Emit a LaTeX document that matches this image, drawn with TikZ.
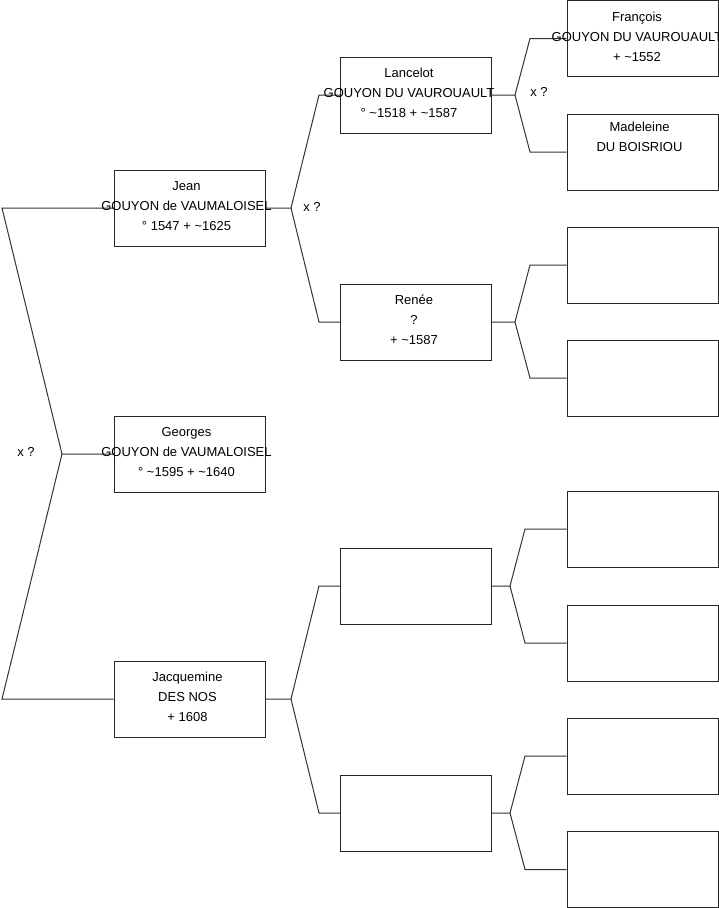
\documentclass[tikz,border=0pt]{standalone}
\usepackage{fontspec}
\setmainfont{Liberation Sans}
\usetikzlibrary{calc}
\begin{document}
\begin{tikzpicture}[x=1pt,y=-1pt,
  pbox/.style={draw=black!85,line width=1pt,minimum width=151pt,minimum height=76pt,inner sep=0pt,fill=none},
  ptxt/.style={align=center,inner sep=0pt,font=\fontsize{13}{20}\selectfont},
  lbl/.style={inner sep=0pt,font=\fontsize{13}{15}\selectfont},
  edge/.style={draw=black!80,line width=1pt}]
\useasboundingbox (0,0) rectangle (719,908);
\clip (0,0) rectangle (719,908);
% column 1
\node[pbox] (jean) at (189.5,208) {};
\node[pbox] (georges) at (189.5,454) {};
\node[pbox] (jacq) at (189.5,699) {};
% column 2
\node[pbox] (lancelot) at (416,95) {};
\node[pbox] (renee) at (416,322) {};
\node[pbox] (e1) at (416,586) {};
\node[pbox] (e2) at (416,813) {};
% column 3
\node[pbox] (francois) at (642.5,38.5) {};
\node[pbox] (madeleine) at (642.5,152) {};
\node[pbox] (b3) at (642.5,265) {};
\node[pbox] (b4) at (642.5,378) {};
\node[pbox] (b5) at (642.5,529) {};
\node[pbox] (b6) at (642.5,643) {};
\node[pbox] (b7) at (642.5,756) {};
\node[pbox] (b8) at (642.5,869.5) {};
% fork coordinates
\coordinate (fA) at (62,454);
\coordinate (fB) at (291,208);
\coordinate (fC) at (291,699);
\coordinate (fD) at (515,95);
\coordinate (fE) at (515,322);
\coordinate (fF) at (510,586);
\coordinate (fG) at (510,813);
% connectors
\draw[edge] (georges.west) -- (fA) -- (2,208) -- (jean.west);
\draw[edge] (fA) -- (2,699) -- (jacq.west);
\draw[edge] (jean.east) -- (fB) -- (319,95) -- (lancelot.west);
\draw[edge] (fB) -- (319,322) -- (renee.west);
\draw[edge] (jacq.east) -- (fC) -- (319,586) -- (e1.west);
\draw[edge] (fC) -- (319,813) -- (e2.west);
\draw[edge] (lancelot.east) -- (fD) -- (530,38.5) -- (francois.west);
\draw[edge] (fD) -- (530,152) -- (madeleine.west);
\draw[edge] (renee.east) -- (fE) -- (530,265) -- (b3.west);
\draw[edge] (fE) -- (530,378) -- (b4.west);
\draw[edge] (e1.east) -- (fF) -- (525,529) -- (b5.west);
\draw[edge] (fF) -- (525,643) -- (b6.west);
\draw[edge] (e2.east) -- (fG) -- (525,756) -- (b7.west);
\draw[edge] (fG) -- (525,869.5) -- (b8.west);
% texts
\node[ptxt] (tjean) at ($(jean.center)+(-3,-2)$) {Jean\\GOUYON de VAUMALOISEL\\° 1547 + \textasciitilde1625};
\node[ptxt] (tgeorges) at ($(georges.center)+(-3,-2)$) {Georges\\GOUYON de VAUMALOISEL\\° \textasciitilde1595 + \textasciitilde1640};
\node[ptxt] (tjacq) at ($(jacq.center)+(-2,-2)$) {Jacquemine\\DES NOS\\+ 1608};
\node[ptxt] (tlancelot) at ($(lancelot.center)+(-7,-2)$) {Lancelot\\GOUYON DU VAUROUAULT\\° \textasciitilde1518 + \textasciitilde1587};
\node[ptxt] (trenee) at ($(renee.center)+(-2,-2)$) {Renée\\?\\+ \textasciitilde1587};
\node[ptxt] (tfrancois) at ($(francois.center)+(-5.5,-2)$) {François\\GOUYON DU VAUROUAULT\\+ \textasciitilde1552};
\node[ptxt] (tmadeleine) at ($(madeleine.center)+(-3,-2)$) {Madeleine\\DU BOISRIOU\\\strut};
% labels
\node[lbl] (x1) at (26,452) {x ?};
\node[lbl] (x2) at (312,207) {x ?};
\node[lbl] (x3) at (539,92) {x ?};
\end{tikzpicture}
\end{document}
